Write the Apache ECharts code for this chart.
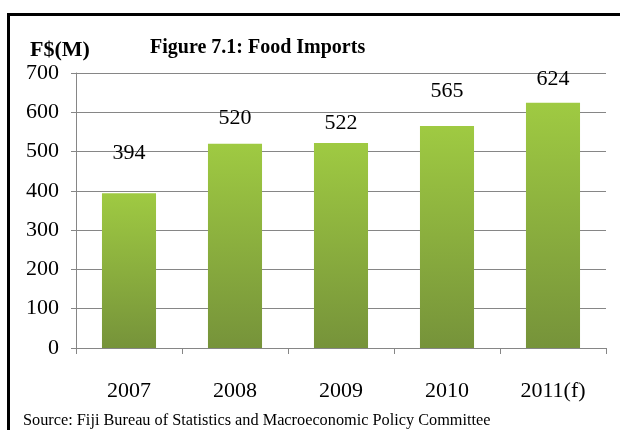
<!DOCTYPE html>
<html>
<head>
<meta charset="utf-8">
<script src="https://cdn.jsdelivr.net/npm/echarts@6/dist/echarts.min.js"></script>
<style>html,body{margin:0;padding:0;background:#fff}#c{width:620px;height:430px}</style>
</head>
<body>
<div id="c"></div>
<script>
var categories = ['2007', '2008', '2009', '2010', '2011(f)'];
var imports = [394, 520, 522, 565, 624];
var yTicks = [0, 100, 200, 300, 400, 500, 600, 700];
var titleText = 'Figure 7.1: Food Imports';
var unitText = 'F$(M)';
var sourceText = 'Source: Fiji Bureau of Statistics and Macroeconomic Policy Committee';
var labelGaps = [29, 14, 9, 24, 13];

var chart = echarts.init(document.getElementById('c'), null, {renderer: 'canvas'});
var serif = '"Liberation Serif", "Times New Roman", serif';
chart.setOption({
  animation: false,
  backgroundColor: '#fff',
  grid: {left: 76, right: 14, top: 73, bottom: 82},
  xAxis: {
    type: 'category',
    data: categories,
    axisLine: {lineStyle: {color: '#868686', width: 1}},
    axisTick: {show: true, length: 6, alignWithLabel: false, lineStyle: {color: '#868686'}},
    axisLabel: {fontFamily: serif, fontSize: 22, color: '#000', margin: 32}
  },
  yAxis: {
    type: 'value',
    min: yTicks[0],
    max: yTicks[yTicks.length - 1],
    interval: yTicks[1] - yTicks[0],
    axisLine: {show: true, lineStyle: {color: '#868686', width: 1}},
    axisTick: {show: true, length: 5, lineStyle: {color: '#868686'}},
    axisLabel: {fontFamily: serif, fontSize: 22, color: '#000', margin: 17},
    splitLine: {lineStyle: {color: '#868686', width: 1}}
  },
  series: [{
    type: 'bar',
    data: imports.map(function (v, i) { return {value: v, label: {distance: labelGaps[i]}}; }),
    barWidth: '51%',
    itemStyle: {
      color: new echarts.graphic.LinearGradient(0, 0, 0, 1, [
        {offset: 0, color: '#9fca42'},
        {offset: 1, color: '#76933a'}
      ])
    },
    label: {show: true, position: 'top', fontFamily: serif, fontSize: 22, color: '#000'}
  }],
  graphic: [
    {type: 'rect', shape: {x: 8.5, y: 14.5, width: 700, height: 500}, style: {fill: null, stroke: '#000', lineWidth: 3}, z: 100},
    {type: 'text', left: 150, top: 38, style: {text: titleText, font: 'bold 20px ' + serif, fill: '#000'}},
    {type: 'text', left: 30, top: 39, style: {text: unitText, font: 'bold 22px ' + serif, fill: '#000'}},
    {type: 'text', left: 23, top: 413, style: {text: sourceText, font: '16.3px ' + serif, fill: '#000'}}
  ]
});
</script>
</body>
</html>
